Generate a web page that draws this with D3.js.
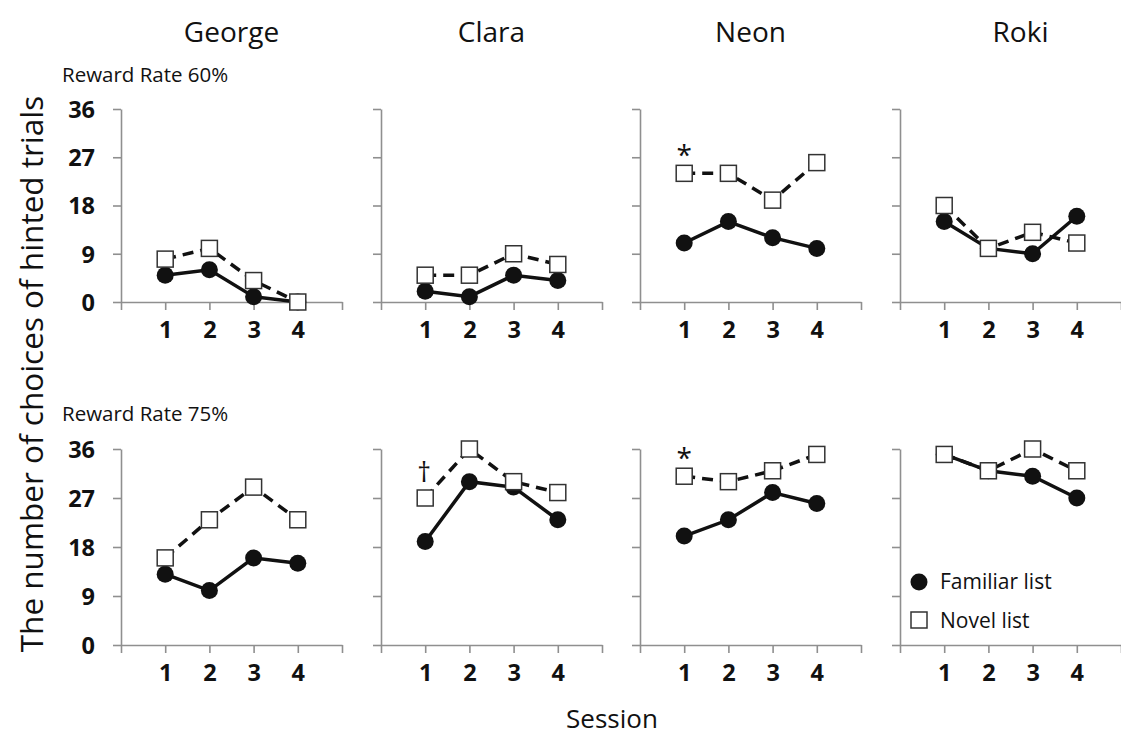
<!DOCTYPE html>
<html>
  <head>
    <meta charset="utf-8">
    <script type="text/javascript" src="https://cdn.jsdelivr.net/npm/d3@7/dist/d3.min.js"></script>
    <style media="screen">
    body{
      margin:0;
      background-color:#fff;
    }
    text{
      font-family:"Open Sans","Noto Sans",sans-serif;
      fill:#111;
    }
    .axis path,.axis line{
      stroke:#8f8f8f;
      stroke-width:1.6;
    }
    .axis text{
      font-weight:700;
      font-size:23.5px;
      fill:#111;
    }
    </style>
    <title>D3.JS</title>
  </head>
  <body>
    <div id="graph"></div>

    <script type="text/javascript">

    var subjects=["George","Clara","Neon","Roki"];
    var sessions=[1,2,3,4];
    var yTicks=[0,9,18,27,36];
    var rates=["Reward Rate 60%","Reward Rate 75%"];

    // one row per subject, sessions 1-4
    var familiar60=[[5,6,1,0],[2,1,5,4],[11,15,12,10],[15,10,9,16]];
    var novel60=[[8,10,4,0],[5,5,9,7],[24,24,19,26],[18,10,13,11]];
    var familiar75=[[13,10,16,15],[19,30,29,23],[20,23,28,26],[35,32,31,27]];
    var novel75=[[16,23,29,23],[27,36,30,28],[31,30,32,35],[35,32,36,32]];

    // significance marks placed above a novel-list point
    var marks=[
      {row:0,col:2,session:1,sym:"*"},
      {row:1,col:2,session:1,sym:"*"},
      {row:1,col:1,session:1,sym:"\u2020"}
    ];

    var width=1121;
    var height=738;
    var svg=d3.select('#graph').append('svg')
      .attr('width',width).attr('height',height);

    var panelLeft=[121,381,640,900];
    var panelW=221;
    var rowY=[{bottom:302,top:109},{bottom:645,top:449}];
    var familiar=[familiar60,familiar75];
    var novel=[novel60,novel75];

    subjects.forEach(function(name,c){
      svg.append('text')
        .attr('x',panelLeft[c]+panelW/2+(c==3?10:0))
        .attr('y',42)
        .attr('text-anchor','middle')
        .style('font-size','28px')
        .text(name);
    });

    rates.forEach(function(r,i){
      svg.append('text')
        .attr('x',62)
        .attr('y',i==0?82:421)
        .style('font-size','20.5px')
        .text(r);
    });

    var marker={r:8.5,sq:16};

    rowY.forEach(function(ry,r){
      var y=d3.scaleLinear().domain([0,36]).range([ry.bottom,ry.top]);
      subjects.forEach(function(name,c){
        var x=d3.scaleLinear().domain([0,5]).range([panelLeft[c],panelLeft[c]+panelW]);
        var g=svg.append('g');

        var yAxis=d3.axisLeft(y).tickValues(yTicks).tickSize(8).tickSizeOuter(0).tickPadding(18);
        if(c>0) yAxis.tickFormat('');
        g.append('g').attr('class','axis')
          .attr('transform','translate('+panelLeft[c]+',0)')
          .call(yAxis)
          .selectAll('text').attr('dy','0.36em');

        var xAxis=d3.axisBottom(x).tickValues([0,1,2,3,4,5]).tickSize(8).tickSizeOuter(0).tickPadding(11)
          .tickFormat(function(d){return (d>=1&&d<=4)?d:'';});
        g.append('g').attr('class','axis')
          .attr('transform','translate(0,'+ry.bottom+')')
          .call(xAxis);

        var fam=familiar[r][c].map(function(v,i){return {s:sessions[i],v:v};});
        var nov=novel[r][c].map(function(v,i){return {s:sessions[i],v:v};});
        var line=d3.line().x(function(d){return x(d.s);}).y(function(d){return y(d.v);});

        g.append('path').datum(fam).attr('d',line)
          .attr('fill','none').attr('stroke','#111').attr('stroke-width',3.5);
        g.selectAll('circle').data(fam).enter().append('circle')
          .attr('cx',function(d){return x(d.s);})
          .attr('cy',function(d){return y(d.v);})
          .attr('r',marker.r)
          .attr('fill','#111');

        g.append('path').datum(nov).attr('d',line)
          .attr('fill','none').attr('stroke','#111').attr('stroke-width',3.5)
          .attr('stroke-dasharray','11,7');
        g.selectAll('rect').data(nov).enter().append('rect')
          .attr('x',function(d){return x(d.s)-marker.sq/2;})
          .attr('y',function(d){return y(d.v)-marker.sq/2;})
          .attr('width',marker.sq).attr('height',marker.sq)
          .attr('fill','#fff').attr('stroke','#333').attr('stroke-width',1.5);

        marks.filter(function(m){return m.row==r&&m.col==c;}).forEach(function(m){
          var v=novel[r][c][m.session-1];
          svg.append('text')
            .attr('x',x(m.session)+(m.sym=="*"?0:-1))
            .attr('y',y(v)-(m.sym=="*"?8:16))
            .attr('text-anchor','middle')
            .style('font-size',m.sym=="*"?'28px':'27px')
            .text(m.sym);
        });
      });
    });

    // legend
    var legend=svg.append('g').attr('transform','translate(919,582)');
    legend.append('circle').attr('cx',0).attr('cy',0).attr('r',8.5).attr('fill','#111');
    legend.append('text').attr('x',21).attr('y',7).style('font-size','21px').text('Familiar list');
    legend.append('rect').attr('x',-8).attr('y',30).attr('width',16).attr('height',16)
      .attr('fill','#fff').attr('stroke','#333').attr('stroke-width',1.5);
    legend.append('text').attr('x',21).attr('y',46).style('font-size','21px').text('Novel list');

    svg.append('text')
      .attr('transform','translate(43,374) rotate(-90)')
      .attr('text-anchor','middle')
      .style('font-size','31.5px')
      .text('The number of choices of hinted trials');

    svg.append('text')
      .attr('x',612).attr('y',728)
      .attr('text-anchor','middle')
      .style('font-size','26px')
      .text('Session');

    </script>
  </body>
</html>
